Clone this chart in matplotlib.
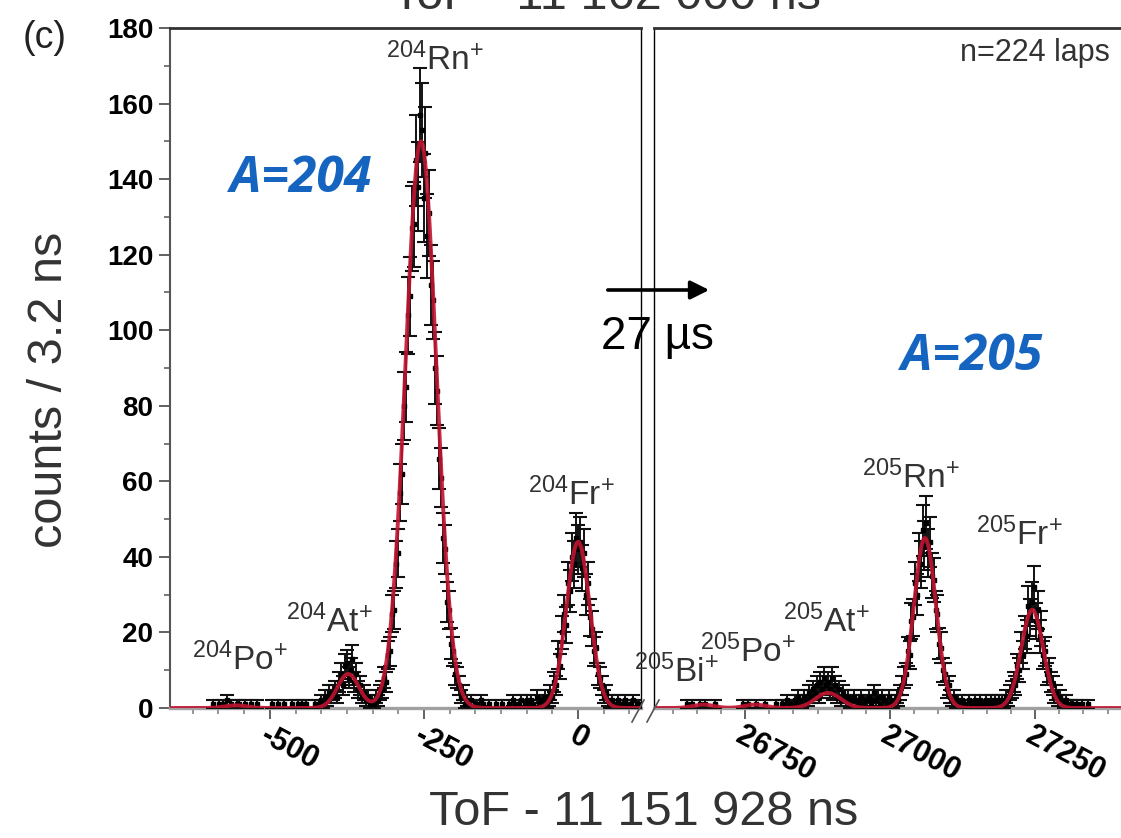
import numpy as np
import matplotlib
matplotlib.use('Agg')
import matplotlib.pyplot as plt
from matplotlib.ticker import MultipleLocator

plt.rcParams['font.family'] = ['Liberation Sans', 'DejaVu Sans']
plt.rcParams['mathtext.default'] = 'regular'
plt.rcParams['axes.unicode_minus'] = False

# ---------------- data (counts per 3.2 ns bin) ----------------
BIN = 3.2

# A = 204 part (ToF - 11 151 928 ns)
po204_start = -592.0
po204_counts = [1, 0, 0, 1, 0, 1, 0, 2, 0, 1, 0, 0, 1, 1, 0, 0, 1, 0, 0, 1, 0, 0, 1, 0]
pre_at204_start = -496.0
pre_at204_counts = [1, 0, 0, 1, 0, 0, 1, 0, 0, 0, 1, 0, 0, 1, 0, 1, 0, 1, 0, 0]
rn204_start = -430.0
rn204_counts = [0, 1, 0, 1, 2, 1, 3, 2, 4, 3,
                4, 5, 3, 7, 9, 6, 11, 12, 8, 10, 13, 7, 9, 5,
                6, 3, 4, 2, 3, 1, 2, 1, 3, 2, 4,
                5, 8, 7, 14, 15, 25, 26, 38, 41, 57, 62, 80, 85, 104, 109, 127, 128, 145, 138, 157,
                153, 135, 147, 125, 131, 112, 108, 90, 84, 66, 61, 45, 42, 28, 26, 17, 15, 9, 8, 6, 3, 4, 1, 2]
mid204_start = -177.2
mid204_counts = [1, 2, 0, 1, 1, 0, 2, 1, 0, 0, 1, 0, 0, 0, 1, 0, 0, 1, 0, 0]
fr204_start = -112.0
fr204_counts = [1, 0, 2, 1, 0, 1, 2, 0, 1, 2, 1,
                2, 1, 0, 3, 1, 2, 2, 3, 1, 2,
                4, 3, 7, 6, 14, 11, 20, 25, 22, 33, 31, 40, 38, 45,
                42, 44, 37, 41, 30, 33, 24, 21, 15, 16, 9, 8, 6, 3, 4, 2,
                1, 2, 1, 0, 2, 1, 0, 1, 2, 1, 0, 1, 2, 0, 1, 1]

# A = 205 part
bipo205_start = 26640.0
bipo205_counts = [0, 0, 0, 1, 0, 0, 1, 0, 0, 0, 1, 0, 0, 1, 0, 0, 0, 0, 1, 0,
                  0, 0, 0, 0, 0, 0, 0, 0, 0, 0, 0, 0, 0, 1, 0, 0, 1, 0, 0, 0,
                  1, 0, 0, 0, 0, 1, 0, 0, 0, 0, 0, 1, 0, 0, 1, 1, 0, 2, 1, 1]
at205_start = 26832.0
at205_counts = [1, 2, 1, 3, 2, 1, 3, 2, 2, 4, 3, 5, 4, 6, 3, 7, 5, 8, 6, 7,
                5, 8, 4, 6, 3, 5, 2, 4, 3, 2, 3, 1, 2, 3, 2, 1, 2, 3, 1, 2]
rn205_start = 26960.0
rn205_counts = [2, 3, 1, 2, 4, 2, 3, 1, 3, 2, 2, 1, 3, 2, 1, 2, 3, 2, 4, 6,
                8, 9, 15, 14, 23, 24, 33, 30, 40, 38, 47, 43, 49, 41, 44, 35, 34, 26, 25, 17,
                16, 10, 9, 5, 6, 3, 2, 3, 1, 2]
fr205_start = 27120.0
fr205_counts = [1, 2, 1, 1, 0, 2, 1, 1, 2, 0, 1, 2, 1, 1, 2, 0, 1, 2, 1, 2,
                1, 2, 1, 2, 1, 3, 2, 4, 5, 7, 6, 11, 10, 16, 14, 20, 19, 27, 24, 28,
                32, 23, 26, 19, 21, 14, 15, 9, 10, 7, 6, 3, 4, 2, 3, 2, 1, 2, 1, 0,
                1, 1, 0, 1, 0, 0, 1, 0, 0, 1]

# fitted peak parameters (centre ns, amplitude counts, sigma ns)
fit204_centers = [-555, -373, -255, 0]
fit204_amps = [0.7, 9, 150, 44]
fit204_sigmas = [18, 17.5, 25, 19]
fit205_centers = [26678, 26767, 26893, 27060, 27245]
fit205_amps = [0.9, 0.9, 4, 45, 26]
fit205_sigmas = [18, 18, 22, 19, 19]

labels204 = [r'${}^{204}$Po$^{+}$', r'${}^{204}$At$^{+}$', r'${}^{204}$Rn$^{+}$', r'${}^{204}$Fr$^{+}$']
labels204_pos = [(-549, 12.7), (-403, 22.8), (-232, 171.5), (-11, 56.4)]
labels205 = [r'${}^{205}$Bi$^{+}$', r'${}^{205}$Po$^{+}$', r'${}^{205}$At$^{+}$', r'${}^{205}$Rn$^{+}$', r'${}^{205}$Fr$^{+}$']
labels205_pos = [(26631, 9.5), (26755, 14.8), (26890, 22.8), (27036, 60.9), (27222, 45.8)]

left_ticks = [-500, -250, 0]
left_ticklabels = ['-500', '-250', '0']
right_ticks = [26750, 27000, 27250]
right_ticklabels = ['26750', '27000', '27250']
y_ticks = list(range(0, 181, 20))

# ---------------- figure ----------------
W, H = 1121, 838
fig = plt.figure(figsize=(W / 100, H / 100), dpi=100)
fig.patch.set_facecolor('white')

bot = (H - 708) / H
hgt = 680 / H
axL = fig.add_axes([170 / W, bot, (641 - 170) / W, hgt])
axR = fig.add_axes([654 / W, bot, (W - 654) / W, hgt])

GRAY = '#333333'


def draw_counts(ax, segs):
    for start, counts in segs:
        c = np.asarray(counts, dtype=float)
        t = start + BIN * np.arange(len(c))
        m = c > 0
        ax.errorbar(t[m], c[m], yerr=np.sqrt(c[m]), fmt='s', ms=3.5, mfc='black', mec='black',
                    ecolor='#111111', elinewidth=1.4, capsize=5, capthick=1.5, zorder=3)


def draw_fit(ax, centers, amps, sigmas, xlim):
    x = np.linspace(xlim[0], xlim[1], 3000)
    y = np.zeros_like(x)
    for c, a, s in zip(centers, amps, sigmas):
        y += a * np.exp(-(x - c) ** 2 / (2 * s ** 2))
    ax.plot(x, y, color='#c01530', lw=2.8, alpha=0.9, zorder=4, solid_capstyle='round')


xlimL = (-662, 102)
xlimR = (26593, 27398)

draw_counts(axL, [(po204_start, po204_counts), (pre_at204_start, pre_at204_counts),
                  (rn204_start, rn204_counts), (mid204_start, mid204_counts),
                  (fr204_start, fr204_counts)])
draw_counts(axR, [(bipo205_start, bipo205_counts), (at205_start, at205_counts),
                  (rn205_start, rn205_counts), (fr205_start, fr205_counts)])
draw_fit(axL, fit204_centers, fit204_amps, fit204_sigmas, xlimL)
draw_fit(axR, fit205_centers, fit205_amps, fit205_sigmas, xlimR)

for ax, xl in ((axL, xlimL), (axR, xlimR)):
    ax.set_xlim(*xl)
    ax.set_ylim(0, 180)
    ax.spines['top'].set_color(GRAY)
    ax.spines['top'].set_linewidth(2.0)
    ax.spines['bottom'].set_color('#a0a0a0')
    ax.spines['bottom'].set_linewidth(2.4)
    ax.xaxis.set_minor_locator(MultipleLocator(250 / 6))
    ax.tick_params(axis='x', which='major', length=8, width=1.3, color='#555555', direction='out', pad=1)
    ax.tick_params(axis='x', which='minor', length=4, width=1.1, color='#777777', direction='out')

axL.spines['left'].set_color('#555555')
axL.spines['left'].set_linewidth(1.5)
axL.spines['right'].set_color('black')
axL.spines['right'].set_linewidth(1.0)
axR.spines['left'].set_color('black')
axR.spines['left'].set_linewidth(1.0)
axR.spines['right'].set_visible(False)

axL.set_yticks(y_ticks)
axL.set_yticklabels([str(v) for v in y_ticks], fontsize=20, fontweight='bold')
axL.yaxis.set_minor_locator(MultipleLocator(10))
axL.tick_params(axis='y', which='major', length=8, width=1.3, color='#555555', direction='out', pad=4)
axL.tick_params(axis='y', which='minor', length=4.5, width=1.1, color='#555555', direction='out')
axR.tick_params(axis='y', which='both', left=False, labelleft=False)

axL.set_xticks(left_ticks)
axL.set_xticklabels(left_ticklabels, rotation=-28, ha='left', va='top', rotation_mode='anchor',
                    fontsize=22, fontweight='bold')
axR.set_xticks(right_ticks)
axR.set_xticklabels(right_ticklabels, rotation=-28, ha='left', va='top', rotation_mode='anchor',
                    fontsize=22, fontweight='bold')

# break marks
wL, wR, hA = 471, W - 654, 680
fx = (638 - 170) / wL
axL.plot([fx - 6 / wL, fx + 6 / wL], [-(3 + 11) / hA, -(3 - 11) / hA], transform=axL.transAxes,
         clip_on=False, color='#555555', lw=1.2, zorder=6)
fx = (653 - 654) / wR
axR.plot([fx - 6 / wR, fx + 6 / wR], [-(3 + 11) / hA, -(3 - 11) / hA], transform=axR.transAxes,
         clip_on=False, color='#555555', lw=1.2, zorder=6)

# peak labels
for lab, (x, y) in zip(labels204, labels204_pos):
    axL.text(x, y, lab, ha='center', va='center', fontsize=24, color=GRAY, clip_on=False, zorder=5)
for lab, (x, y) in zip(labels205, labels205_pos):
    axR.text(x, y, lab, ha='center', va='center', fontsize=24, color=GRAY, clip_on=False, zorder=5)

BLUE = '#1565c0'
axL.text(-450, 140, 'A=204', ha='center', va='center', fontsize=36, color=BLUE,
         family=['Open Sans', 'DejaVu Sans'], fontweight='bold', fontstyle='italic', zorder=5)
axR.text(27141, 93, 'A=205', ha='center', va='center', fontsize=36, color=BLUE,
         family=['Open Sans', 'DejaVu Sans'], fontweight='bold', fontstyle='italic', zorder=5, clip_on=False)

# arrow and gap annotation
fig.patches.append(matplotlib.patches.FancyArrowPatch(
    (605 / W, 1 - 290 / H), (712 / W, 1 - 290 / H), transform=fig.transFigure,
    arrowstyle='-|>', mutation_scale=28, lw=2.6, color='black'))
fig.text(657 / W, 1 - 337 / H, '27 µs', fontsize=33, ha='center', va='center', color='black')

fig.text(1110 / W, 1 - 53 / H, 'n=224 laps', fontsize=22, ha='right', va='center', color=GRAY)
fig.text(45 / W, 1 - 38 / H, '(c)', fontsize=27, ha='center', va='center', color='#222222')

fig.text(50 / W, 1 - 390 / H, 'counts / 3.2 ns', rotation=90, fontsize=35, ha='center', va='center', color=GRAY)
fig.text(644 / W, 1 - 812 / H, 'ToF - 11 151 928 ns', fontsize=35, ha='center', va='center', color=GRAY)
fig.text(607 / W, 1 - 9 / H, 'ToF - 11 162 000 ns', fontsize=35, ha='center', va='baseline', color=GRAY)

fig.savefig('out.png', dpi=100)
